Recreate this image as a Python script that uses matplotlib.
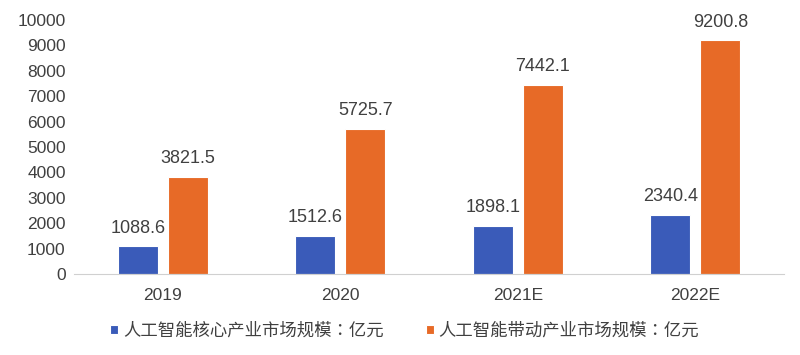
import numpy as np
import matplotlib
matplotlib.use('Agg')
from matplotlib import pyplot as plt

plt.rcParams['font.family'] = ['Liberation Sans', 'Noto Sans CJK SC', 'DejaVu Sans']

years = ['2019', '2020', '2021E', '2022E']
core_market = [1088.6, 1512.6, 1898.1, 2340.4]
driven_market = [3821.5, 5725.7, 7442.1, 9200.8]
series_names = ['人工智能核心产业市场规模：亿元', '人工智能带动产业市场规模：亿元']

blue = '#3A5BB9'
orange = '#E76A27'
text_color = '#404040'

fig = plt.figure(figsize=(8, 3.55), dpi=100)
ax = fig.add_axes([0.0925, 0.228, 0.8875, 0.7157])

x = np.arange(len(years))
width = 0.225
offset = 0.141

b1 = ax.bar(x - offset, core_market, width, color=blue, edgecolor='white',
            linewidth=0.8, label=series_names[0])
b2 = ax.bar(x + offset, driven_market, width, color=orange, edgecolor='white',
            linewidth=0.8, label=series_names[1])

for bars in (b1, b2):
    ax.bar_label(bars, labels=[f'{v:.1f}' for v in bars.datavalues],
                 padding=7, fontsize=13, color=text_color)

ax.set_xlim(-0.5, len(years) - 0.5)
ax.set_ylim(0, 10000)
ax.set_yticks(np.arange(0, 10001, 1000))
ax.set_xticks(x)
ax.set_xticklabels(years)
ax.tick_params(axis='both', length=0, labelsize=12.5, colors=text_color)
ax.tick_params(axis='x', pad=10)
ax.tick_params(axis='y', pad=6)

for side in ('top', 'right', 'left'):
    ax.spines[side].set_visible(False)
ax.spines['bottom'].set_color('#D0D0D0')

# TC variant centres the full-width colon like the original
leg = fig.legend(handles=[b1, b2], loc='center', bbox_to_anchor=(0.506, 0.068),
                 ncol=2, frameon=False, handlelength=0.46,
                 handleheight=0.46, handletextpad=0.29, columnspacing=2.4,
                 prop={'family': ['Noto Sans CJK TC', 'DejaVu Sans'], 'size': 12.5})
for t in leg.get_texts():
    t.set_color(text_color)

fig.savefig('out.png', dpi=100)
